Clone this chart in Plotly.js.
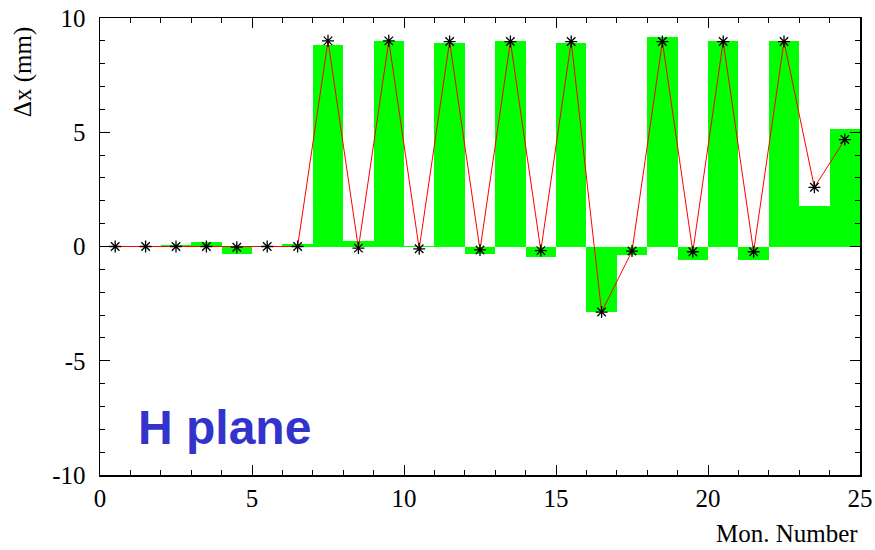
<!DOCTYPE html>
<html><head><meta charset="utf-8">
<script src="https://cdn.plot.ly/plotly-3.0.1.min.js"></script>
<style>body{margin:0;background:#fff}#c{width:875px;height:550px}</style>
</head><body><div id="c"></div>
<script>
// Monitor bins (bar centres) and values
const monitors = [0.5,1.5,2.5,3.5,4.5,5.5,6.5,7.5,8.5,9.5,10.5,11.5,12.5,13.5,14.5,15.5,16.5,17.5,18.5,19.5,20.5,21.5,22.5,23.5,24.5];
const barValues = [0,0,0.07,0.18,-0.32,0,0.12,8.84,0.25,9.0,0.02,8.9,-0.32,9.0,-0.48,8.9,-2.88,-0.38,9.15,-0.59,9.0,-0.59,9.0,1.79,5.13];
const pointValues = [0,0,0,0,-0.03,0,0,9.0,-0.07,9.0,-0.1,8.97,-0.15,8.97,-0.18,8.97,-2.87,-0.2,8.97,-0.23,8.97,-0.23,8.97,2.59,4.68];
const xTicks = [0,5,10,15,20,25];
const yTicks = [-10,-5,0,5,10];

const serif = 'Liberation Serif';
const traces = [
  {type:'bar', x:monitors, y:barValues, width:1, marker:{color:'#00ff00', line:{width:0}}, hoverinfo:'skip'},
  {type:'scatter', mode:'lines+markers', x:monitors, y:pointValues,
   line:{color:'#ff0000', width:1},
   marker:{symbol:'asterisk-open', size:10, color:'#000', line:{color:'#000', width:1.3}}}
];
function axis(extra){
  return Object.assign({showgrid:false, zeroline:false, showline:true, linecolor:'#000', linewidth:1.5,
    mirror:'ticks', ticks:'inside', ticklen:10, tickwidth:1, tickcolor:'#000',
    tickfont:{family:serif, size:25, color:'#000'},
    minor:{dtick:1, ticks:'inside', ticklen:5, tickcolor:'#000', tickwidth:1}}, extra);
}
const layout = {
  width:875, height:550, showlegend:false, bargap:0,
  font:{family:serif, size:25, color:'#000'},
  paper_bgcolor:'#fff', plot_bgcolor:'#fff',
  margin:{l:100, r:15, t:18, b:75},
  xaxis:axis({range:[0,25], tickvals:xTicks, ticktext:xTicks.map(String)}),
  yaxis:axis({range:[-10,10], tickvals:yTicks, ticktext:yTicks.map(String), ticklabelstandoff:8}),
  annotations:[
    {text:'Δx (mm)', xref:'paper', yref:'paper', x:-0.101, y:0.882, textangle:-90, showarrow:false,
     font:{family:serif, size:25, color:'#000'}, xanchor:'center', yanchor:'middle'},
    {text:'Mon. Number', xref:'paper', yref:'paper', x:1.0, y:-0.127, showarrow:false,
     font:{family:serif, size:25, color:'#000'}, xanchor:'right', yanchor:'middle'},
    {text:'<b>H plane</b>', xref:'paper', yref:'paper', x:0.048, y:0.105, showarrow:false,
     font:{family:'Liberation Sans', size:48, color:'#3333cc'}, xanchor:'left', yanchor:'middle'}
  ]
};
Plotly.newPlot('c', traces, layout, {displayModeBar:false, staticPlot:true});
</script></body></html>
